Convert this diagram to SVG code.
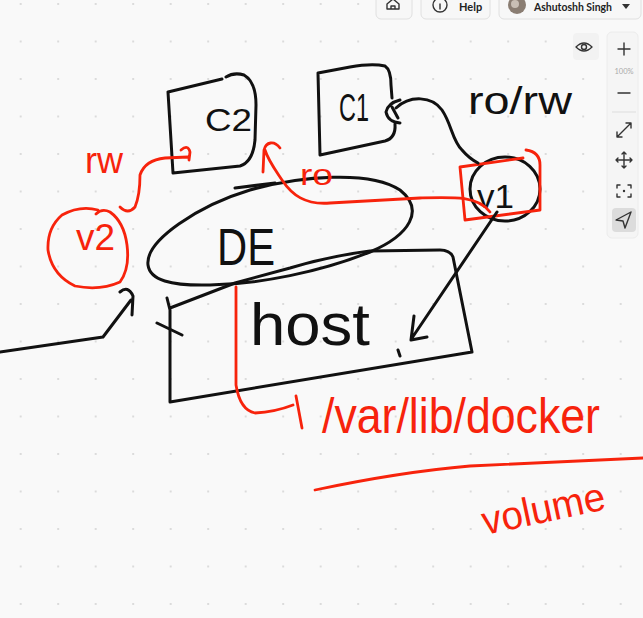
<svg xmlns="http://www.w3.org/2000/svg" width="643" height="618" viewBox="0 0 643 618">
<defs>
<pattern id="dots" x="19.7" y="3" width="37.5" height="37.5" patternUnits="userSpaceOnUse">
<circle cx="1" cy="1" r="1" fill="#d2d2d2"/>
</pattern>
<style>
.k{fill:none;stroke:#111;stroke-width:3;stroke-linecap:round;stroke-linejoin:round}
.r{fill:none;stroke:#f7230c;stroke-width:2.8;stroke-linecap:round;stroke-linejoin:round}
.tk{font-family:"Liberation Sans",Arial,sans-serif;fill:#111}
.tr{font-family:"Liberation Sans",Arial,sans-serif;fill:#f7230c}
.ui{fill:none;stroke:#333;stroke-width:1.4;stroke-linecap:round;stroke-linejoin:round}
.btn{fill:#f7f7f7;stroke:#e0e0e0;stroke-width:1}
.uit{font-family:Lato,"Liberation Sans",sans-serif;font-weight:bold;font-size:11px;fill:#222}
</style>
</defs>
<rect width="643" height="618" fill="#f9f9f9"/>
<rect width="643" height="618" fill="url(#dots)"/>

<!-- UI top bar -->
<g id="ui-top">
<rect class="btn" x="376" y="-6" width="36" height="25" rx="5"/>
<path class="ui" d="M387,9 L387,4 L393,-1 L399,4 L399,9 Z M391,9 L391,6 L395,6 L395,9"/>
<rect class="btn" x="421" y="-6" width="69" height="25" rx="5"/>
<circle class="ui" cx="440" cy="5" r="7"/>
<path class="ui" d="M440,4 L440,9"/>
<text class="uit" x="459" y="11">Help</text>
<rect class="btn" x="499" y="-6" width="142" height="25" rx="5"/>
<circle cx="517" cy="5" r="9" fill="#8a7d72"/>
<circle cx="515" cy="4" r="4" fill="#c9bfb5"/>
<text class="uit" x="534" y="11" textLength="78" lengthAdjust="spacingAndGlyphs">Ashutoshh Singh</text>
<path d="M622,4 L630,4 L626,9 Z" fill="#333"/>
</g>

<!-- UI right toolbar -->
<g id="ui-right">
<rect x="573" y="33" width="26" height="27" rx="4" fill="#f2f2f2"/>
<path class="ui" d="M576,47 Q584,39 592,47 Q584,55 576,47 Z"/>
<circle class="ui" cx="584" cy="47" r="2.5"/>
<rect x="607" y="32" width="31" height="206" rx="5" fill="#f5f5f5" stroke="#ececec"/>
<path class="ui" d="M618,49 L630,49 M624,43 L624,55" stroke-width="1.8"/>
<text x="624" y="74" text-anchor="middle" font-family="Lato,'Liberation Sans',sans-serif" font-size="7.5" fill="#aaa">100%</text>
<path class="ui" d="M618,93 L630,93" stroke-width="1.8"/>
<path d="M612,112 L636,112" stroke="#ddd" stroke-width="1"/>
<path class="ui" d="M617,137 L631,123 M626,123 L631,123 L631,128 M617,132 L617,137 L622,137"/>
<path class="ui" d="M616,160 L632,160 M624,152 L624,168 M618,158 L616,160 L618,162 M630,158 L632,160 L630,162 M622,154 L624,152 L626,154 M622,166 L624,168 L626,166"/>
<path class="ui" d="M617,188 L617,185 L620,185 M628,185 L631,185 L631,188 M631,194 L631,197 L628,197 M620,197 L617,197 L617,194"/>
<circle cx="624" cy="191" r="1.2" fill="#333"/>
<rect x="612" y="208" width="24" height="24" rx="4" fill="#dcdcdc"/>
<path class="ui" d="M631,212 L616,220 L623,221 L625,228 Z"/>
</g>

<!-- nodes -->
<g id="c2">
<path class="k" d="M168,92 L222,79 M226,77 Q234,72 244,75 Q256,82 256,105 L255,140 Q253,162 240,166 L173,173 L168,92"/>
<text class="tk" x="205" y="131" font-size="32" textLength="47" lengthAdjust="spacingAndGlyphs">C2</text>
</g>
<g id="c1">
<path class="k" d="M318,73 L350,67 Q372,63 385,66 Q391,70 391,85 L392,98 M395,124 Q396,138 385,141 L320,155 L318,73"/>
<text class="tk" x="339" y="121" font-size="38" textLength="30" lengthAdjust="spacingAndGlyphs">C1</text>
</g>
<g id="v1">
<ellipse class="k" cx="505" cy="189" rx="35" ry="32"/>
<text class="tk" x="477" y="208" font-size="34" textLength="37" lengthAdjust="spacingAndGlyphs">v1</text>
<path class="r" d="M460,167 L523,158 M526,150 Q540,152 540,165 L540,210 L465,220 L460,167"/>
</g>
<g id="v2">
<path class="r" d="M98,210 Q80,205 62,215 Q47,228 48,250 Q52,275 75,286 Q100,291 120,282 Q130,268 127,245 Q124,222 110,212 Q102,208 96,214"/>
<text class="tr" x="76" y="250" font-size="36" textLength="39" lengthAdjust="spacingAndGlyphs">v2</text>
</g>
<g id="de">
<path class="k" d="M148,265 C145,240 200,205 250,190 C300,176 370,170 400,190 C425,210 410,235 370,252 C320,272 260,284 210,285 C170,286 150,280 148,265 Z"/>
<path class="k" d="M235,188 L275,183" stroke-width="4.5"/>
<text class="tk" x="217" y="265" font-size="52" textLength="58" lengthAdjust="spacingAndGlyphs">DE</text>
</g>
<g id="host">
<path class="k" d="M167,298 L170,310 L170,402 L472,352 L453,257 Q450,250 440,250 L370,251 Q330,256 290,268 L235,283 L170,308"/>
<path class="k" d="M157,323 L182,335 M398,350 L400,356"/>
<text class="tk" x="250" y="345" font-size="60" textLength="120" lengthAdjust="spacingAndGlyphs">host</text>
</g>
<g id="var-lib-docker">
<text class="tr" x="322" y="433" font-size="50" textLength="278" lengthAdjust="spacingAndGlyphs">/var/lib/docker</text>
<path class="r" d="M315,490 Q400,472 470,466 L643,458" stroke-width="3.5"/>
</g>
<g id="volume">
<text class="tr" x="485" y="535" font-size="40" textLength="125" lengthAdjust="spacingAndGlyphs" transform="rotate(-12 485 535)">volume</text>
</g>

<!-- connectors -->
<g id="connectors">
<path class="k" d="M400,100 Q388,103 386,112 Q388,122 400,123 M392,107 L398,118"/>
<path class="k" d="M396,108 C410,95 432,96 442,110 C452,125 452,140 462,150 C468,157 472,160 478,163"/>
<text class="tk" x="468" y="114" font-size="38" textLength="104" lengthAdjust="spacingAndGlyphs">ro/rw</text>
<path class="k" d="M497,212 L412,338 M414,316 L411,340 L427,337"/>
<path class="k" d="M0,352 L103,337 L131,300 M120,292 Q128,285 133,296 L132,315"/>
<path class="r" d="M120,207 Q128,215 135,207 Q140,195 140,175 Q145,160 165,158 L188,157 M181,150 Q188,144 190,152 L189,160"/>
<text class="tr" x="85" y="173" font-size="36" textLength="38" lengthAdjust="spacingAndGlyphs">rw</text>
<path class="r" d="M490,212 C478,196 455,197 420,198 L330,203 C305,205 292,195 282,180 C274,168 268,160 265,150 M263,172 L264,150 C266,142 274,140 280,148"/>
<text class="tr" x="300" y="185" font-size="30" textLength="33" lengthAdjust="spacingAndGlyphs">ro</text>
<path class="r" d="M236,287 L236,385 Q240,410 255,413 Q275,412 293,405 M296,396 L302,428"/>
</g>
</svg>
